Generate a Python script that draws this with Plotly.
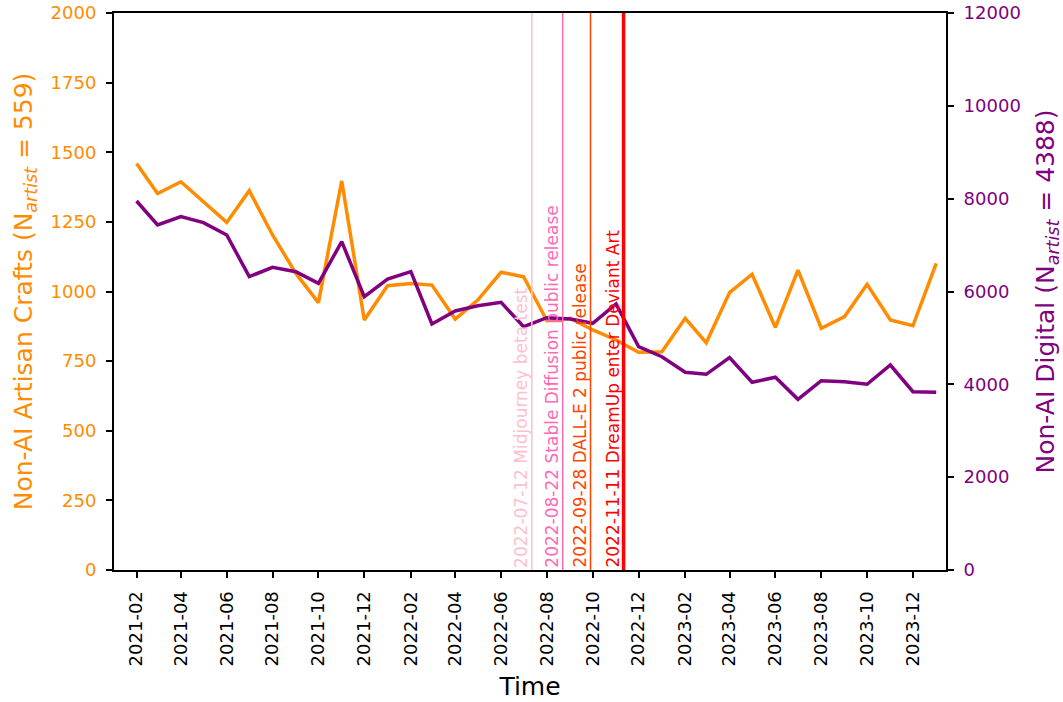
import pandas as pd
import plotly.graph_objects as go

# Monthly counts
months = pd.date_range("2021-02-01", "2024-01-01", freq="MS")

crafts = [1460, 1352, 1394, 1322, 1248, 1362, 1203, 1065, 960, 1397,
          898, 1021, 1029, 1023, 901, 969, 1069, 1053, 895, 904,
          862, 826, 782, 784, 904, 816, 996, 1062, 871, 1077,
          868, 910, 1026, 898, 877, 1101]

digital = [7950, 7433, 7612, 7483, 7217, 6320, 6522, 6427, 6176, 7074,
           5889, 6269, 6427, 5300, 5580, 5694, 5767, 5242, 5436, 5408,
           5315, 5731, 4811, 4595, 4259, 4216, 4574, 4044, 4152, 3677,
           4078, 4057, 4001, 4416, 3841, 3828]

# Release events marked with vertical lines
event_dates = ["2022-07-12", "2022-08-22", "2022-09-28", "2022-11-11"]
event_names = ["Midjourney beta test", "Stable Diffusion public release",
               "DALL-E 2 public release", "DreamUp enter Deviant Art"]
event_colors = ["#FFC0CB", "#FF69B4", "#FF4500", "#FF0000"]
event_widths = [1.5, 1.5, 1.5, 3.5]

left_ticks = [0, 250, 500, 750, 1000, 1250, 1500, 1750, 2000]
right_ticks = [0, 2000, 4000, 6000, 8000, 10000, 12000]

ORANGE = "#FF8C00"
PURPLE = "#800080"
FONT = "DejaVu Sans"

fig = go.Figure()
fig.add_trace(go.Scatter(x=months, y=crafts, mode="lines",
                         line=dict(color=ORANGE, width=3.5), yaxis="y",
                         showlegend=False))
fig.add_trace(go.Scatter(x=months, y=digital, mode="lines",
                         line=dict(color=PURPLE, width=3.5), yaxis="y2",
                         showlegend=False))

for d, name, c, w in zip(event_dates, event_names, event_colors, event_widths):
    fig.add_shape(type="line", xref="x", yref="paper", x0=d, x1=d, y0=0, y1=1,
                  line=dict(color=c, width=w))
    fig.add_annotation(x=d, y=0, xref="x", yref="paper", text=f"{d} {name}",
                       textangle=-90, showarrow=False, xanchor="right",
                       yanchor="bottom", font=dict(family=FONT, size=17, color=c),
                       xshift=1)

tick_vals = pd.date_range("2021-02-01", "2023-12-01", freq="2MS")

axis_common = dict(ticks="outside", ticklen=6, tickwidth=1.8, tickcolor="black",
                   showline=True, linecolor="black", linewidth=2,
                   showgrid=False, zeroline=False, automargin=False)

fig.update_layout(
    template="none",
    width=1063, height=702,
    margin=dict(l=114, r=117, t=13, b=132),
    paper_bgcolor="white", plot_bgcolor="white",
    font=dict(family=FONT, size=17, color="black"),
    xaxis=dict(
        range=["2021-01-02", "2024-01-14"],
        tickvals=tick_vals, tickformat="%Y-%m", tickangle=-90,
        mirror=True, ticklabelstandoff=6,
        tickfont=dict(family=FONT, size=18, color="black"),
        title=dict(text="Time", font=dict(family=FONT, size=25, color="black"),
                   standoff=12),
        **axis_common,
    ),
    yaxis=dict(
        range=[0, 2000], tickvals=left_ticks, ticklabelstandoff=6,
        tickfont=dict(family=FONT, size=18, color=ORANGE),
        title=dict(text="Non-AI Artisan Crafts (N<sub><i>artist</i></sub> = 559)",
                   font=dict(family=FONT, size=25, color=ORANGE), standoff=11),
        **axis_common,
    ),
    yaxis2=dict(
        range=[0, 12000], tickvals=right_ticks, tickformat="d",
        overlaying="y", side="right", ticklabelstandoff=6,
        tickfont=dict(family=FONT, size=18, color=PURPLE),
        title=dict(text="Non-AI Digital (N<sub><i>artist</i></sub> = 4388)",
                   font=dict(family=FONT, size=25, color=PURPLE), standoff=18),
        **axis_common,
    ),
)

fig.write_html("out.html")
